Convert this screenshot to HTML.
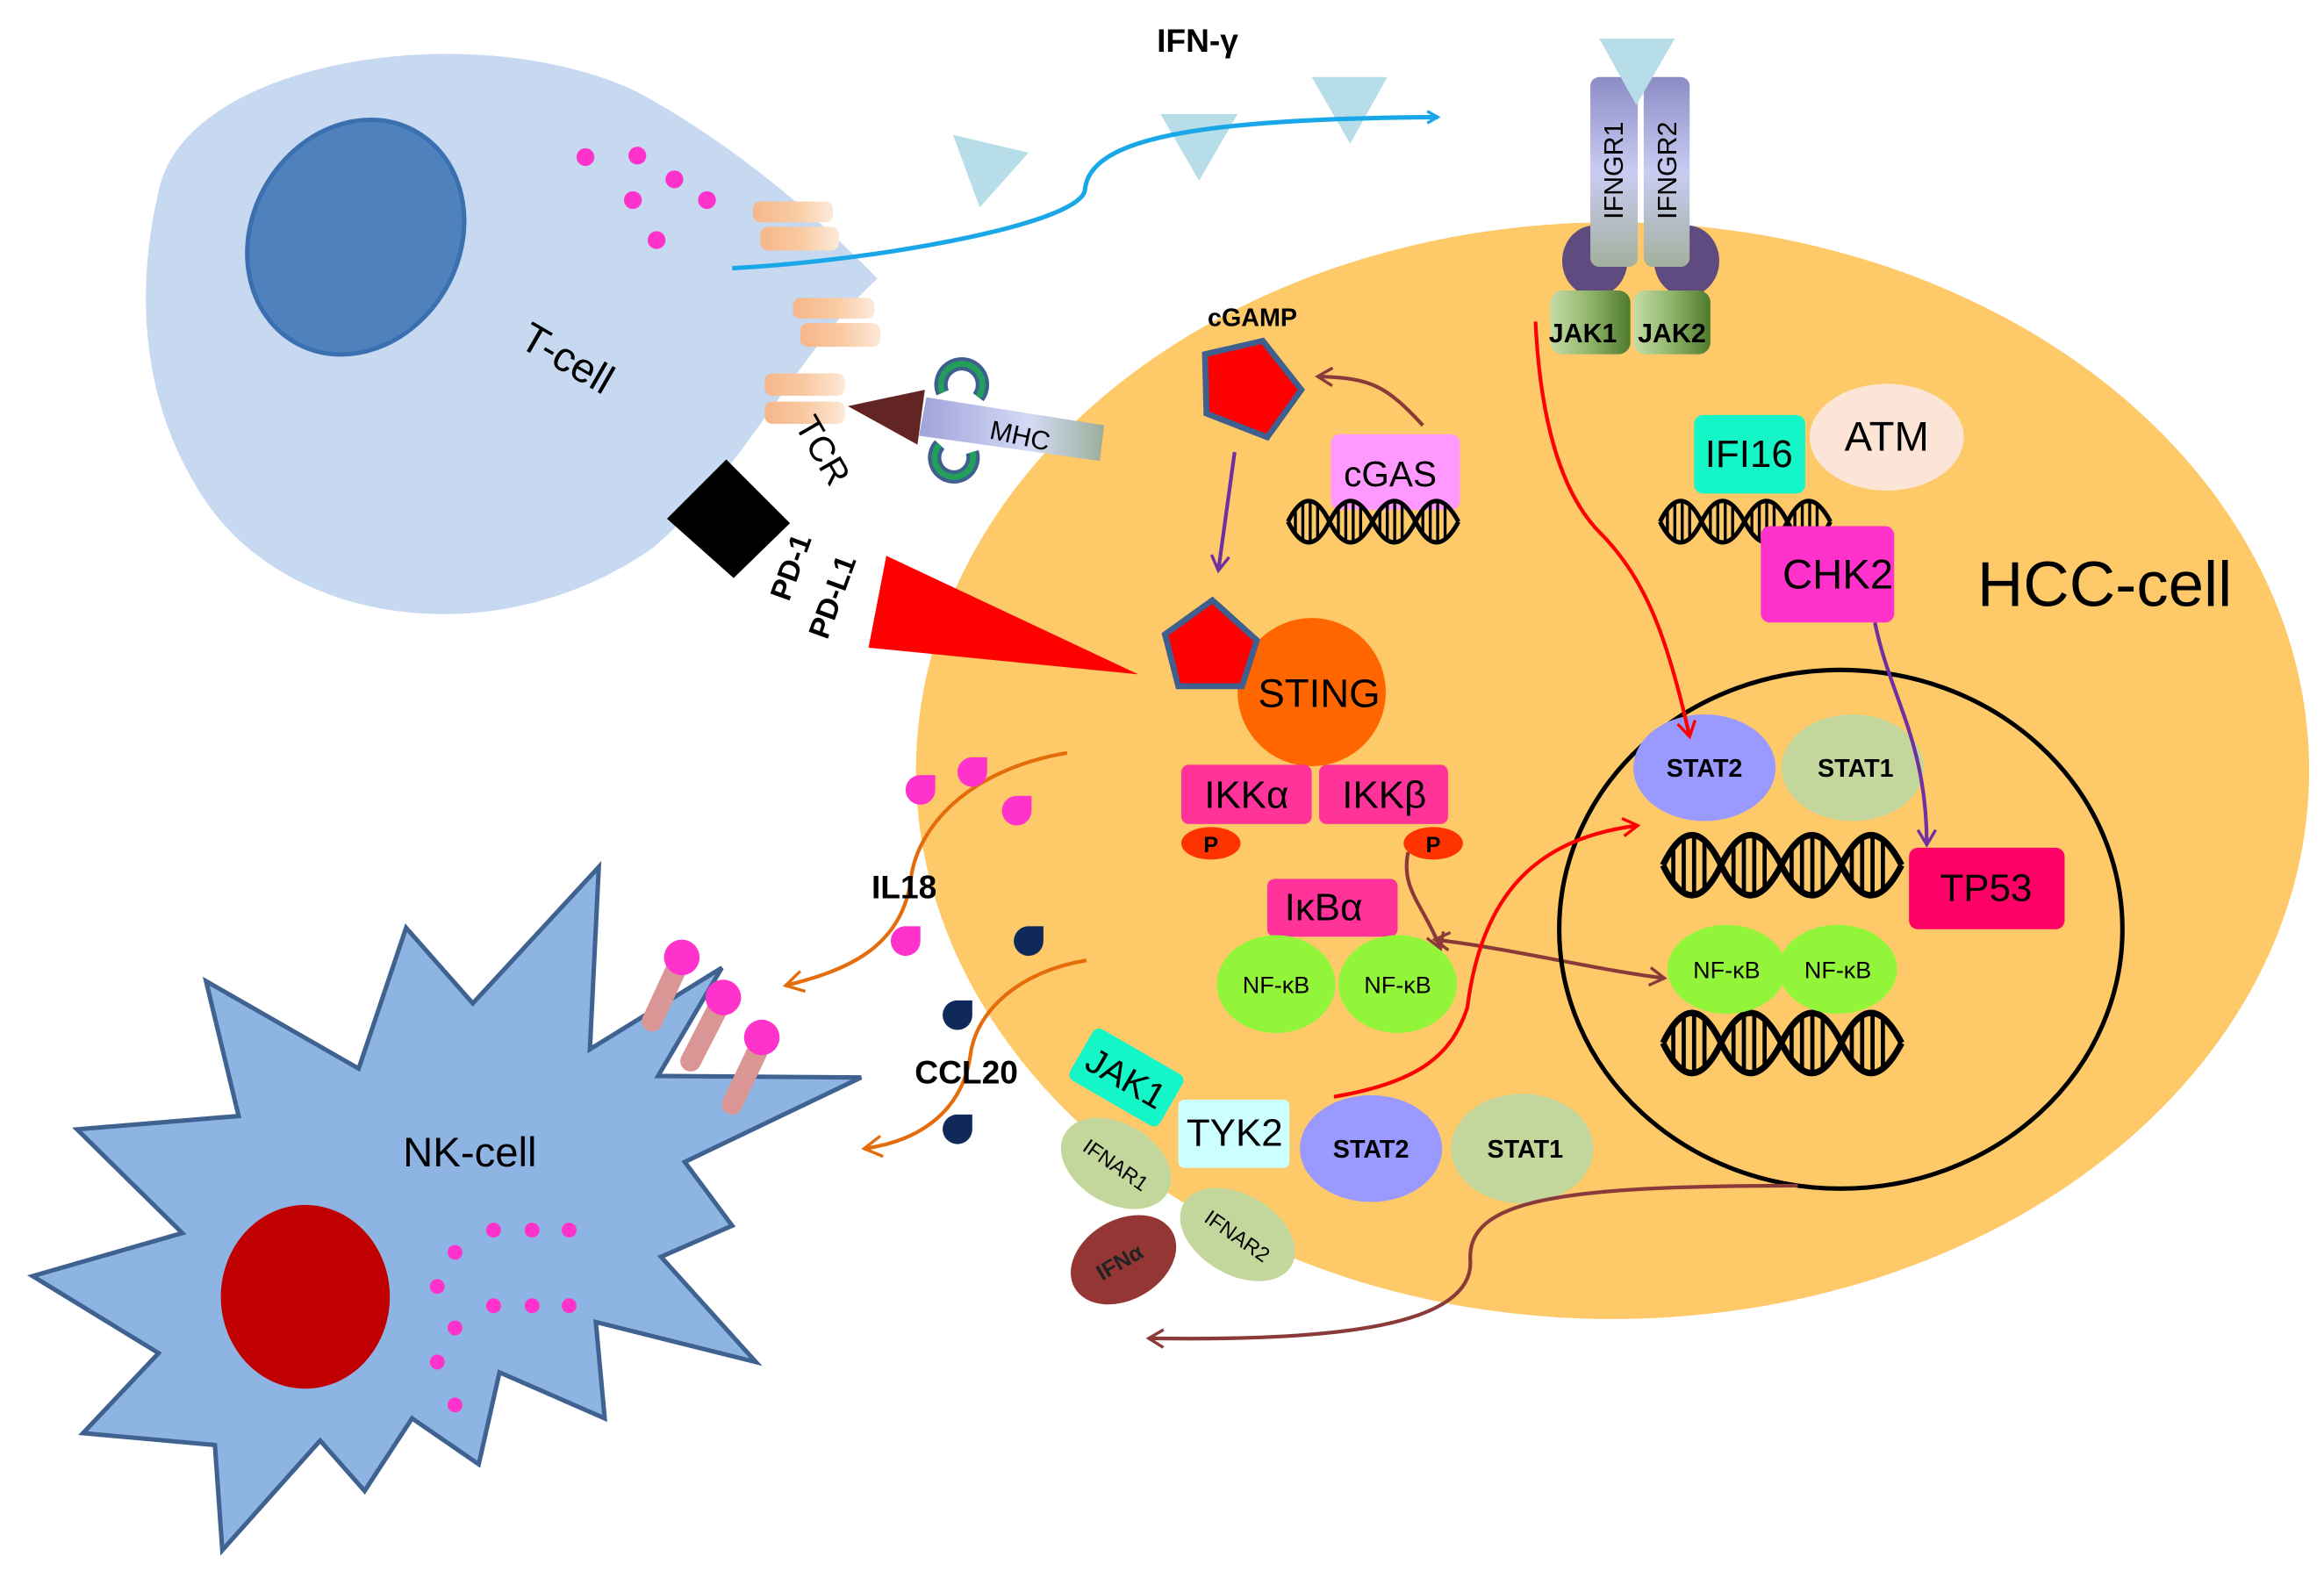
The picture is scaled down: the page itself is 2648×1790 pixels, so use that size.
<!DOCTYPE html>
<html><head><meta charset="utf-8"><style>html,body{margin:0;padding:0;background:#fff}svg{display:block}</style></head>
<body>
<svg width="2648" height="1790" viewBox="0 0 1568 1060" preserveAspectRatio="none" xmlns="http://www.w3.org/2000/svg" font-family="Liberation Sans, sans-serif">
<defs>
<linearGradient id="peach" x1="0" x2="1"><stop offset="0" stop-color="#F6B68A"/><stop offset="0.5" stop-color="#F9C9A0"/><stop offset="1" stop-color="#FDE9D9"/></linearGradient>
<linearGradient id="rec" x1="0" y1="0" x2="0" y2="1"><stop offset="0" stop-color="#8C8CC6"/><stop offset="0.5" stop-color="#C9CCF2"/><stop offset="1" stop-color="#A3B09E"/></linearGradient>
<linearGradient id="jak" x1="0" x2="1"><stop offset="0" stop-color="#C5DCA6"/><stop offset="0.5" stop-color="#8EB56A"/><stop offset="1" stop-color="#4F7A2E"/></linearGradient>
<linearGradient id="mhc" x1="0" x2="1"><stop offset="0" stop-color="#9FA3D9"/><stop offset="0.6" stop-color="#D4DAF6"/><stop offset="1" stop-color="#9AAE9A"/></linearGradient>
<g id="dna" fill="none" stroke="#000" stroke-width="3">
<path d="M0,15 Q14,-13 28,15 T57,15 T86,15 T115,15"/>
<path d="M0,15 Q14,43 28,15 T57,15 T86,15 T115,15"/>
<path stroke-width="2" d="M5,6V24M10,3V27M15,2V28M20,4V26M34,6V24M39,3V27M44,2V28M49,4V26M62,6V24M67,3V27M72,2V28M77,4V26M91,6V24M96,3V27M101,2V28M106,4V26"/>
</g>
<marker id="ab" markerWidth="10" markerHeight="10" refX="8" refY="5" orient="auto" markerUnits="userSpaceOnUse"><path d="M1,1L8,5L1,9" fill="none" stroke="#1AA7E8" stroke-width="2"/></marker>
<marker id="ar" markerWidth="14" markerHeight="14" refX="11" refY="7" orient="auto" markerUnits="userSpaceOnUse"><path d="M1,1L11,7L1,13" fill="none" stroke="#FF0000" stroke-width="2"/></marker>
<marker id="ap" markerWidth="14" markerHeight="14" refX="11" refY="7" orient="auto" markerUnits="userSpaceOnUse"><path d="M1,1L11,7L1,13" fill="none" stroke="#7030A0" stroke-width="2"/></marker>
<marker id="abr" markerWidth="14" markerHeight="14" refX="11" refY="7" orient="auto" markerUnits="userSpaceOnUse"><path d="M1,1L11,7L1,13" fill="none" stroke="#8B3A3A" stroke-width="2"/></marker>
<marker id="abs" markerWidth="14" markerHeight="14" refX="3" refY="7" orient="auto" markerUnits="userSpaceOnUse"><path d="M13,1L3,7L13,13" fill="none" stroke="#8B3A3A" stroke-width="2"/></marker>
<marker id="ao" markerWidth="16" markerHeight="16" refX="13" refY="8" orient="auto" markerUnits="userSpaceOnUse"><path d="M1,1L13,8L1,15" fill="none" stroke="#E46C0A" stroke-width="2"/></marker>
</defs>

<ellipse cx="1088" cy="520" rx="470" ry="370" fill="#FECA69"/>

<path d="M108,125 C130,40 320,10 430,62 C500,100 555,150 592,188 C540,235 500,320 440,370 C340,440 200,425 140,340 C92,270 92,190 108,125 Z" fill="#C6D9F0"/>
<ellipse cx="240" cy="160" rx="70" ry="82" transform="rotate(30 240 160)" fill="#4F81BD" stroke="#3A6FB0" stroke-width="3"/>
<g fill="#FF33CC"><circle cx="395" cy="106" r="6"/><circle cx="430" cy="105" r="6"/><circle cx="455" cy="121" r="6"/><circle cx="427" cy="135" r="6"/><circle cx="477" cy="135" r="6"/><circle cx="443" cy="162" r="6"/></g>
<text x="378" y="250" font-size="28" transform="rotate(30 378 250)" text-anchor="middle">T-cell</text>

<g fill="url(#peach)">
<rect x="508" y="136" width="54" height="14" rx="5"/><rect x="513" y="153" width="53" height="16" rx="5"/>
<rect x="535" y="201" width="55" height="14" rx="5"/><rect x="540" y="218" width="54" height="16" rx="5"/>
<rect x="516" y="252" width="54" height="15" rx="5"/><rect x="516" y="271" width="54" height="15" rx="5"/>
</g>
<text x="548" y="308" font-size="24" transform="rotate(60 548 308)" text-anchor="middle">TCR</text>

<text x="808" y="35" font-size="22" font-weight="bold" text-anchor="middle">IFN-γ</text>
<g fill="#B7DDE8">
<polygon points="643,91 694,103 661,140"/><polygon points="783,77 835,77 809,122"/><polygon points="885,52 936,52 911,97"/>
</g>
<path d="M494,181 C600,175 730,150 732,128 C735,95 800,80 970,79" fill="none" stroke="#1AA7E8" stroke-width="3" marker-end="url(#ab)"/>

<ellipse cx="1076" cy="176" rx="22" ry="24" fill="#5F4B7F"/><ellipse cx="1138" cy="176" rx="22" ry="24" fill="#5F4B7F"/>
<rect x="1073" y="52" width="32" height="128" rx="6" fill="url(#rec)"/>
<rect x="1109" y="52" width="31" height="128" rx="6" fill="url(#rec)"/>
<polygon points="1079,26 1130,26 1104,71" fill="#B7DDE8"/>
<text x="1095" y="115" font-size="18" transform="rotate(-90 1095 115)" text-anchor="middle">IFNGR1</text>
<text x="1131" y="115" font-size="18" transform="rotate(-90 1131 115)" text-anchor="middle">IFNGR2</text>
<rect x="1046" y="196" width="54" height="43" rx="8" fill="url(#jak)"/>
<rect x="1102" y="196" width="52" height="43" rx="8" fill="url(#jak)"/>
<text x="1068" y="231" font-size="18" font-weight="bold" text-anchor="middle">JAK1</text>
<text x="1128" y="231" font-size="18" font-weight="bold" text-anchor="middle">JAK2</text>

<path d="M660,268 A14,14 0 1 0 636,265" fill="none" stroke="#3F5F8F" stroke-width="9"/>
<path d="M660,268 A14,14 0 1 0 636,265" fill="none" stroke="#22A05A" stroke-width="4"/>
<path d="M634,300 A13,13 0 1 0 656,305" fill="none" stroke="#3F5F8F" stroke-width="9"/>
<path d="M634,300 A13,13 0 1 0 656,305" fill="none" stroke="#22A05A" stroke-width="4"/>
<path d="M625,268 L745,287 L742,311 L620,294 Z" fill="url(#mhc)"/>
<polygon points="572,274 624,263 619,300" fill="#632523"/>
<text x="687" y="300" font-size="18" transform="rotate(12 687 300)" text-anchor="middle">MHC</text>

<polygon points="450,350 490,310 533,353 495,390" fill="#000"/>
<polygon points="598,375 768,455 586,437" fill="#FF0000"/>
<text x="540" y="385" font-size="20" font-weight="bold" transform="rotate(-70 540 385)" text-anchor="middle">PD-1</text>
<text x="568" y="405" font-size="20" font-weight="bold" transform="rotate(-70 568 405)" text-anchor="middle">PD-L1</text>

<text x="845" y="220" font-size="17" font-weight="bold" text-anchor="middle">cGAMP</text>
<polygon points="813,239 852,230 878,263 855,295 814,279" fill="#FF0000" stroke="#3F5F8F" stroke-width="4"/>
<path d="M960,287 C935,260 925,255 889,254" fill="none" stroke="#8B3A3A" stroke-width="2.5" marker-end="url(#abr)"/>
<rect x="898" y="293" width="87" height="51" rx="6" fill="#FF99FF"/>
<text x="938" y="328" font-size="24" text-anchor="middle">cGAS</text>
<use href="#dna" x="869" y="337"/>
<path d="M833,305 L822,385" fill="none" stroke="#7030A0" stroke-width="2.5" marker-end="url(#ap)"/>

<circle cx="885" cy="467" r="50" fill="#FF6600"/>
<polygon points="786,428 818,405 848,432 838,463 795,463" fill="#FF0000" stroke="#3F5F8F" stroke-width="4"/>
<text x="890" y="477" font-size="27" text-anchor="middle">STING</text>
<rect x="797" y="516" width="88" height="40" rx="5" fill="#FF3399"/>
<rect x="890" y="516" width="87" height="40" rx="5" fill="#FF3399"/>
<text x="841" y="545" font-size="26" text-anchor="middle">IKKα</text>
<text x="934" y="545" font-size="26" text-anchor="middle">IKKβ</text>
<ellipse cx="817" cy="569" rx="20" ry="11" fill="#FF3300"/><text x="817" y="575" font-size="15" font-weight="bold" text-anchor="middle">P</text>
<ellipse cx="967" cy="569" rx="20" ry="11" fill="#FF3300"/><text x="967" y="575" font-size="15" font-weight="bold" text-anchor="middle">P</text>
<rect x="855" y="593" width="88" height="39" rx="5" fill="#FF3399"/>
<text x="893" y="621" font-size="26" text-anchor="middle">IκBα</text>
<ellipse cx="861" cy="664" rx="40" ry="33" fill="#92F53A"/><ellipse cx="943" cy="664" rx="40" ry="33" fill="#92F53A"/>
<text x="861" y="670" font-size="16" text-anchor="middle">NF-κB</text><text x="943" y="670" font-size="16" text-anchor="middle">NF-κB</text>
<path d="M950,575 C945,600 960,610 972,640" fill="none" stroke="#8B3A3A" stroke-width="2.5" marker-end="url(#abr)"/>
<path d="M968,634 C1020,640 1080,655 1123,660" fill="none" stroke="#8B3A3A" stroke-width="2.5" marker-start="url(#abs)" marker-end="url(#abr)"/>

<ellipse cx="1273" cy="295" rx="52" ry="36" fill="#FCE4D6"/>
<text x="1273" y="304" font-size="28" text-anchor="middle">ATM</text>
<use href="#dna" x="1120" y="337"/>
<rect x="1143" y="280" width="75" height="53" rx="6" fill="#14F5C8"/>
<text x="1180" y="315" font-size="26" text-anchor="middle">IFI16</text>
<rect x="1188" y="355" width="90" height="65" rx="6" fill="#FF33CC"/>
<text x="1240" y="397" font-size="28" text-anchor="middle">CHK2</text>
<text x="1420" y="409" font-size="43" text-anchor="middle">HCC-cell</text>

<ellipse cx="1242" cy="627" rx="190" ry="175" fill="none" stroke="#000" stroke-width="3"/>
<ellipse cx="1150" cy="518" rx="48" ry="36" fill="#9999FF"/><ellipse cx="1250" cy="518" rx="48" ry="36" fill="#C3D69B"/>
<text x="1150" y="524" font-size="17" font-weight="bold" text-anchor="middle">STAT2</text>
<text x="1252" y="524" font-size="17" font-weight="bold" text-anchor="middle">STAT1</text>
<g transform="translate(1122,562) scale(1.4,1.45)"><use href="#dna"/></g>
<g transform="translate(1122,682) scale(1.4,1.45)"><use href="#dna"/></g>
<rect x="1288" y="572" width="105" height="55" rx="6" fill="#FF0066"/>
<text x="1340" y="608" font-size="26" text-anchor="middle">TP53</text>
<ellipse cx="1165" cy="654" rx="40" ry="30" fill="#92F53A"/><ellipse cx="1240" cy="654" rx="40" ry="30" fill="#92F53A"/>
<text x="1165" y="660" font-size="16" text-anchor="middle">NF-κB</text><text x="1240" y="660" font-size="16" text-anchor="middle">NF-κB</text>
<path d="M1265,420 C1275,470 1300,500 1300,570" fill="none" stroke="#7030A0" stroke-width="2.5" marker-end="url(#ap)"/>
<path d="M1036,217 C1040,300 1060,340 1080,360 C1110,390 1125,430 1140,497" fill="none" stroke="#FF0000" stroke-width="2.5" marker-end="url(#ar)"/>

<ellipse cx="753" cy="785" rx="40" ry="27" transform="rotate(30 753 785)" fill="#C3D69B"/>
<ellipse cx="835" cy="833" rx="42" ry="27" transform="rotate(30 835 833)" fill="#C3D69B"/>
<text x="750" y="790" font-size="14" transform="rotate(35 750 790)" text-anchor="middle">IFNAR1</text>
<text x="832" y="838" font-size="14" transform="rotate(35 832 838)" text-anchor="middle">IFNAR2</text>
<ellipse cx="758" cy="850" rx="38" ry="27" transform="rotate(-30 758 850)" fill="#943634"/>
<text x="758" y="856" font-size="15" font-weight="bold" fill="#222" transform="rotate(-30 758 856)" text-anchor="middle">IFNα</text>
<rect x="725" y="707" width="70" height="40" rx="5" transform="rotate(30 760 727)" fill="#14F5C8"/>
<text x="760" y="736" font-size="24" transform="rotate(30 760 727)" text-anchor="middle">JAK1</text>
<rect x="795" y="742" width="75" height="46" rx="4" fill="#CCFFFF"/>
<text x="833" y="773" font-size="26" text-anchor="middle">TYK2</text>
<ellipse cx="925" cy="775" rx="48" ry="36" fill="#9999FF"/><ellipse cx="1027" cy="775" rx="48" ry="37" fill="#C3D69B"/>
<text x="925" y="781" font-size="17" font-weight="bold" text-anchor="middle">STAT2</text>
<text x="1029" y="781" font-size="17" font-weight="bold" text-anchor="middle">STAT1</text>
<path d="M900,740 C960,730 980,710 990,680 C1000,600 1040,565 1105,557" fill="none" stroke="#FF0000" stroke-width="2.5" marker-end="url(#ar)"/>
<path d="M1213,800 C1050,800 990,810 992,850 C995,895 900,905 775,903" fill="none" stroke="#8B3A3A" stroke-width="2.5" marker-end="url(#abr)"/>

<path d="M404,585 L398,708 L487,653 L444,726 L581,727 L462,784 L494,827 L446,848 L510,919 L402,892 L408,957 L337,926 L323,988 L278,957 L246,1006 L216,972 L150,1046 L145,975 L56,967 L107,913 L22,861 L123,832 L52,762 L161,753 L139,662 L242,721 L274,626 L319,677 Z" fill="#8EB4E3" stroke="#3F6290" stroke-width="3" stroke-linejoin="miter"/>
<ellipse cx="206" cy="875" rx="57" ry="62" fill="#C00000"/>
<g fill="#FF33CC">
<circle cx="333" cy="830" r="5"/><circle cx="359" cy="830" r="5"/><circle cx="384" cy="830" r="5"/>
<circle cx="307" cy="845" r="5"/><circle cx="295" cy="868" r="5"/>
<circle cx="333" cy="881" r="5"/><circle cx="359" cy="881" r="5"/><circle cx="384" cy="881" r="5"/>
<circle cx="307" cy="896" r="5"/><circle cx="295" cy="919" r="5"/><circle cx="307" cy="948" r="5"/>
</g>
<text x="317" y="787" font-size="28" text-anchor="middle">NK-cell</text>
<g stroke="#D99694" stroke-width="14" stroke-linecap="round">
<line x1="440" y1="689" x2="458" y2="650"/><line x1="466" y1="716" x2="486" y2="677"/><line x1="494" y1="745" x2="513" y2="705"/>
</g>
<g fill="#FF33CC"><circle cx="460" cy="646" r="12"/><circle cx="488" cy="673" r="12"/><circle cx="514" cy="700" r="12"/></g>

<path d="M720,508 C650,520 620,560 615,590 C610,640 570,655 530,665" fill="none" stroke="#E46C0A" stroke-width="2.5" marker-end="url(#ao)"/>
<path d="M733,648 C690,655 660,680 655,710 C650,750 620,770 583,775" fill="none" stroke="#E46C0A" stroke-width="2.5" marker-end="url(#ao)"/>
<g fill="#FF33CC">
<path d="M620,523 a10,10 0 1 0 11,10 l0,-10 z"/>
<path d="M655,511 a10,10 0 1 0 11,10 l0,-10 z"/>
<path d="M685,537 a10,10 0 1 0 11,10 l0,-10 z"/>
<path d="M610,625 a10,10 0 1 0 11,10 l0,-10 z"/>
</g>
<g fill="#0F2A5A">
<path d="M693,625 a10,10 0 1 0 11,10 l0,-10 z"/>
<path d="M645,675 a10,10 0 1 0 11,10 l0,-10 z"/>
<path d="M645,752 a10,10 0 1 0 11,10 l0,-10 z"/>
</g>
<text x="610" y="606" font-size="22" font-weight="bold" text-anchor="middle">IL18</text>
<text x="652" y="731" font-size="22" font-weight="bold" text-anchor="middle">CCL20</text>
</svg>
</body></html>
